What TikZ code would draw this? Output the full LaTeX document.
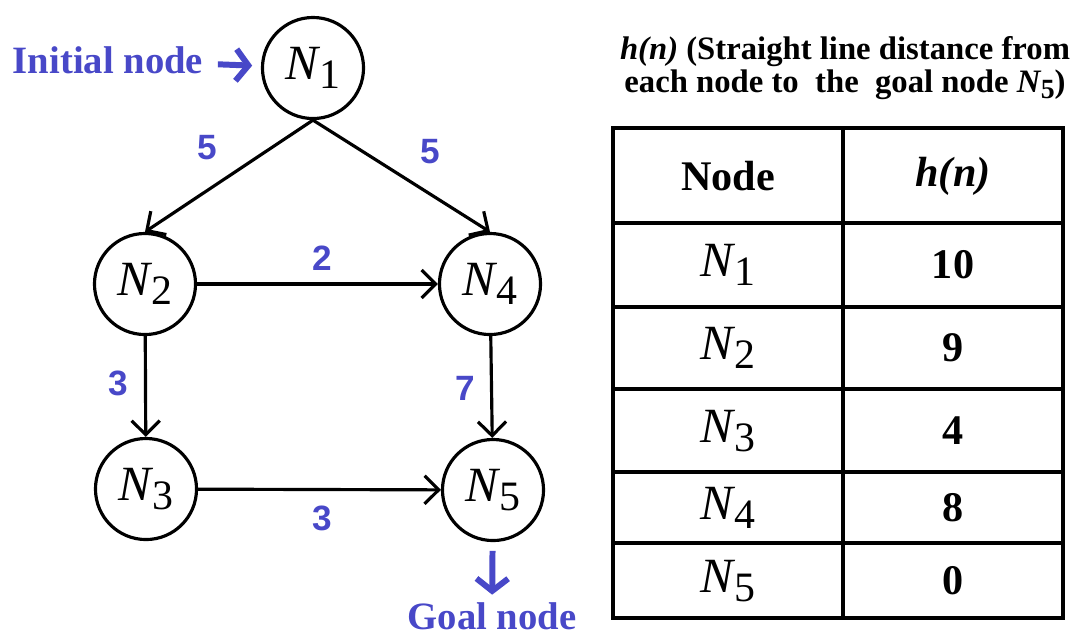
\documentclass[tikz,border=0pt]{standalone}
\usepackage{fontspec}
\setmainfont{Liberation Serif}
\setsansfont{Liberation Sans}
\usetikzlibrary{arrows.meta}
\definecolor{lblblue}{RGB}{72,72,200}
\newcommand{\nd}[1]{\textit{N}\kern-0.02em\raisebox{-0.4ex}{\scalebox{0.85}{#1}}}
\tikzset{
  state/.style={circle,draw,line width=0.9pt,minimum size=1.01cm,inner sep=0pt,font=\fontsize{14}{14}\selectfont},
  edge/.style={-{Straight Barb[length=4pt,width=8pt]},line width=0.9pt},
  wt/.style={text=lblblue,font=\sffamily\bfseries\fontsize{10}{10}\selectfont},
  note/.style={text=lblblue,inner sep=1pt,font=\bfseries\fontsize{11}{11}\selectfont},
  pointer/.style={-{Straight Barb[length=3.5pt,width=9pt]},line width=1.7pt,lblblue},
  tbl/.style={line width=1.3pt},
  tblcell/.style={font=\fontsize{14}{14}\selectfont},
  tblnum/.style={font=\bfseries\fontsize{12}{12}\selectfont}
}
\begin{document}
\begin{tikzpicture}[x=0.01cm,y=-0.01cm]
  \useasboundingbox (0,0) rectangle (1088,635);
  % graph
  \node[state] (N1) at (313,68) {\nd{1}};
  \node[state] (N2) at (145,284) {\nd{2}};
  \node[state] (N4) at (490,284) {\nd{4}};
  \node[state] (N3) at (146,489) {\nd{3}};
  \node[state] (N5) at (493,490) {\nd{5}};
  \draw[edge] (N1.south) -- (N2.north);
  \draw[edge] (N1.south) -- (N4.north);
  \draw[edge] (N2) -- (N4);
  \draw[edge] (N2) -- (N3);
  \draw[edge] (N4) -- (N5);
  \draw[edge] (N3) -- (N5);
  \node[wt] (w12) at (207,148) {5};
  \node[wt] (w14) at (430,152) {5};
  \node[wt] (w24) at (322,258) {2};
  \node[wt] (w23) at (118,383) {3};
  \node[wt] (w45) at (465,388) {7};
  \node[wt] (w35) at (322,518) {3};
  \node[note] (init) at (108,60) {Initial node};
  \draw[pointer,shorten <=3pt,shorten >=2.5pt] (init) -- (N1);
  \node[note] (goal) at (492,616) {Goal node};
  \draw[pointer,shorten <=2.5pt,shorten >=1pt] (N5) -- (goal);
  % heuristic table
  \node[align=center,font=\bfseries\fontsize{9.3}{9.5}\selectfont] (cap) at (845,68)
    {\textit{h(n)} (Straight line distance from\\each node to \ the \ goal node \nd{5})};
  \draw[tbl] (613,128) rectangle (1063,618);
  \draw[tbl] (843,128) -- (843,618);
  \foreach \y in {223,307,389,472,543}
    \draw[tbl] (613,\y) -- (1063,\y);
  \node[font=\bfseries\fontsize{12}{12}\selectfont] (hnode) at (728,176) {Node};
  \node[font=\bfseries\fontsize{12}{12}\selectfont] (hval) at (953,176) {\textit{h(n)}};
  \foreach \i/\v/\y in {1/10/265,2/9/348,3/4/431,4/8/508,5/0/581} {
    \node[tblcell] (t\i) at (728,\y) {\nd{\i}};
    \node[tblnum] (v\i) at (953,\y) {\v};
  }
\end{tikzpicture}
\end{document}
